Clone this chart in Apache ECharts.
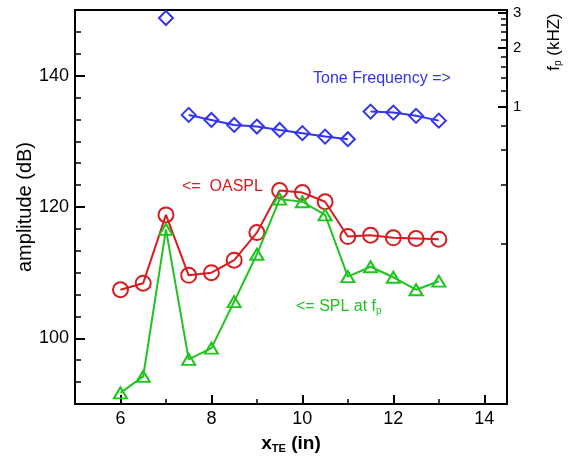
<!DOCTYPE html>
<html>
<head>
<meta charset="utf-8">
<script src="https://cdn.jsdelivr.net/npm/echarts@6/dist/echarts.min.js"></script>
<style>html,body{margin:0;padding:0;background:#fff}#c{width:573px;height:460px}</style>
</head>
<body>
<div id="c"></div>
<script>
// ---- data ----
const xTE = [6, 6.5, 7, 7.5, 8, 8.5, 9, 9.5, 10, 10.5, 11, 11.5, 12, 12.5, 13];
const oaspl = [107.4, 108.4, 118.8, 109.6, 110.0, 111.9, 116.1, 122.5, 122.2, 120.8, 115.5, 115.7, 115.3, 115.2, 115.1];
const splAtFp = [91.7, 94.2, 116.6, 96.8, 98.5, 105.6, 112.8, 121.2, 120.8, 118.8, 109.4, 110.9, 109.3, 107.4, 108.7];
const toneX1 = [7];
const toneF1 = [2.83];
const toneX2 = [7.5, 8, 8.5, 9, 9.5, 10, 10.5, 11];
const toneF2 = [0.907, 0.855, 0.806, 0.791, 0.760, 0.732, 0.703, 0.682];
const toneX3 = [11.5, 12, 12.5, 13];
const toneF3 = [0.943, 0.932, 0.897, 0.848];
const fMajorTicks = [1, 2, 3];
const fMinorTicks = [0.2, 0.4, 0.6, 0.8, 1.2, 1.4, 1.6, 1.8, 2.2, 2.4, 2.6, 2.8];

const RED = '#d71c20', GREEN = '#1fc41f', BLUE = '#3434f0';
const FONT = 'Liberation Sans';
const pairs = (xs, ys) => xs.map((x, i) => [x, ys[i]]);

const chart = echarts.init(document.getElementById('c'));
const hollow = c => ({ color: 'rgba(0,0,0,0)', borderColor: c, borderWidth: 2 });

chart.setOption({
  animation: false,
  textStyle: { fontFamily: FONT },
  grid: { left: 75, top: 10, width: 432, height: 394, show: true, borderColor: '#000', borderWidth: 2, containLabel: false, outerBoundsMode: 'none' },
  xAxis: {
    type: 'value', min: 5, max: 14.5, minInterval: 2, maxInterval: 2, splitNumber: 5,
    axisLine: { lineStyle: { color: '#000', width: 2 } },
    axisTick: { inside: true, length: 9, lineStyle: { color: '#000', width: 2 } },
    minorTick: { show: true, splitNumber: 2, length: 5, lineStyle: { color: '#000', width: 1.5 } },
    splitLine: { show: false },
    axisLabel: { color: '#000', fontSize: 18, margin: 6, showMinLabel: false, showMaxLabel: false, fontFamily: FONT },
    name: '{a|x}{b|TE}{a| (in)}', nameLocation: 'middle', nameGap: 29, nameMoveOverlap: false,
    nameTextStyle: { rich: { a: { fontSize: 19, fontWeight: 'bold', color: '#000', fontFamily: FONT }, b: { fontSize: 11, fontWeight: 'bold', color: '#000', fontFamily: FONT, padding: [10, 0, 0, 0] } } }
  },
  yAxis: [
    {
      type: 'value', min: 90, max: 150, minInterval: 20, maxInterval: 20, splitNumber: 3,
      axisLine: { lineStyle: { color: '#000', width: 2 } },
      axisTick: { inside: true, length: 10, lineStyle: { color: '#000', width: 2 } },
      minorTick: { show: true, splitNumber: 6, length: 6, lineStyle: { color: '#000', width: 1.5 } },
      splitLine: { show: false },
      axisLabel: { color: '#000', fontSize: 18, margin: 6, showMinLabel: false, showMaxLabel: false, fontFamily: FONT },
      name: 'amplitude (dB)', nameLocation: 'middle', nameGap: 40, nameMoveOverlap: false,
      nameTextStyle: { color: '#000', fontSize: 20, fontFamily: FONT }
    },
    {
      type: 'log', logBase: 10, min: 0.0304, max: 3.11, position: 'right',
      axisLine: { show: true, lineStyle: { color: '#000', width: 2 } },
      axisTick: { inside: true, length: 9, customValues: fMajorTicks, lineStyle: { color: '#000', width: 2 } },
      splitLine: { show: false },
      axisLabel: { color: '#000', fontSize: 15, margin: 6, customValues: fMajorTicks, fontFamily: FONT, formatter: v => String(Math.round(v)) }
    },
    {
      type: 'log', logBase: 10, min: 0.0304, max: 3.11, position: 'right',
      axisLine: { show: false },
      axisTick: { inside: true, length: 6, customValues: fMinorTicks, lineStyle: { color: '#000', width: 1.5 } },
      splitLine: { show: false },
      axisLabel: { show: false }
    }
  ],
  graphic: [
    { type: 'text', x: 313, y: 79, style: { text: 'Tone Frequency =>', fill: BLUE, fontSize: 16, fontFamily: FONT, textVerticalAlign: 'middle' } },
    { type: 'text', x: 182, y: 187, style: { text: '<=  OASPL', fill: RED, fontSize: 16, fontFamily: FONT, textVerticalAlign: 'middle' } },
    { type: 'text', x: 296, y: 307, style: { text: '{a|<= SPL at f}{b|p}', fill: GREEN, fontFamily: FONT, textVerticalAlign: 'middle',
        rich: { a: { fontSize: 16, fill: GREEN, fontFamily: FONT }, b: { fontSize: 10, fill: GREEN, fontFamily: FONT, padding: [9, 0, 0, 0] } } } },
    { type: 'text', x: 554, y: 42, rotation: Math.PI / 2, style: { text: '{a|f}{b|p}{a| (kHZ)}', fill: '#000', fontFamily: FONT, textAlign: 'center', textVerticalAlign: 'middle',
        rich: { a: { fontSize: 17, fill: '#000', fontFamily: FONT }, b: { fontSize: 10, fill: '#000', fontFamily: FONT, padding: [9, 0, 0, 0] } } } }
  ],
  series: [
    { name: 'OASPL', type: 'line', data: pairs(xTE, oaspl), symbol: 'circle', symbolSize: 15,
      lineStyle: { color: RED, width: 2 }, itemStyle: hollow(RED), z: 3 },
    { name: 'SPL at fp', type: 'line', data: pairs(xTE, splAtFp), symbol: 'triangle', symbolSize: [13, 11],
      lineStyle: { color: GREEN, width: 2 }, itemStyle: hollow(GREEN), z: 4 },
    { name: 'Tone 1', type: 'line', yAxisIndex: 1, data: pairs(toneX1, toneF1), symbol: 'diamond', symbolSize: 14,
      lineStyle: { color: BLUE, width: 2 }, itemStyle: hollow(BLUE), z: 5 },
    { name: 'Tone 2', type: 'line', yAxisIndex: 1, data: pairs(toneX2, toneF2), symbol: 'diamond', symbolSize: 14,
      lineStyle: { color: BLUE, width: 2 }, itemStyle: hollow(BLUE), z: 5 },
    { name: 'Tone 3', type: 'line', yAxisIndex: 1, data: pairs(toneX3, toneF3), symbol: 'diamond', symbolSize: 14,
      lineStyle: { color: BLUE, width: 2 }, itemStyle: hollow(BLUE), z: 5 }
  ]
});
</script>
</body>
</html>
